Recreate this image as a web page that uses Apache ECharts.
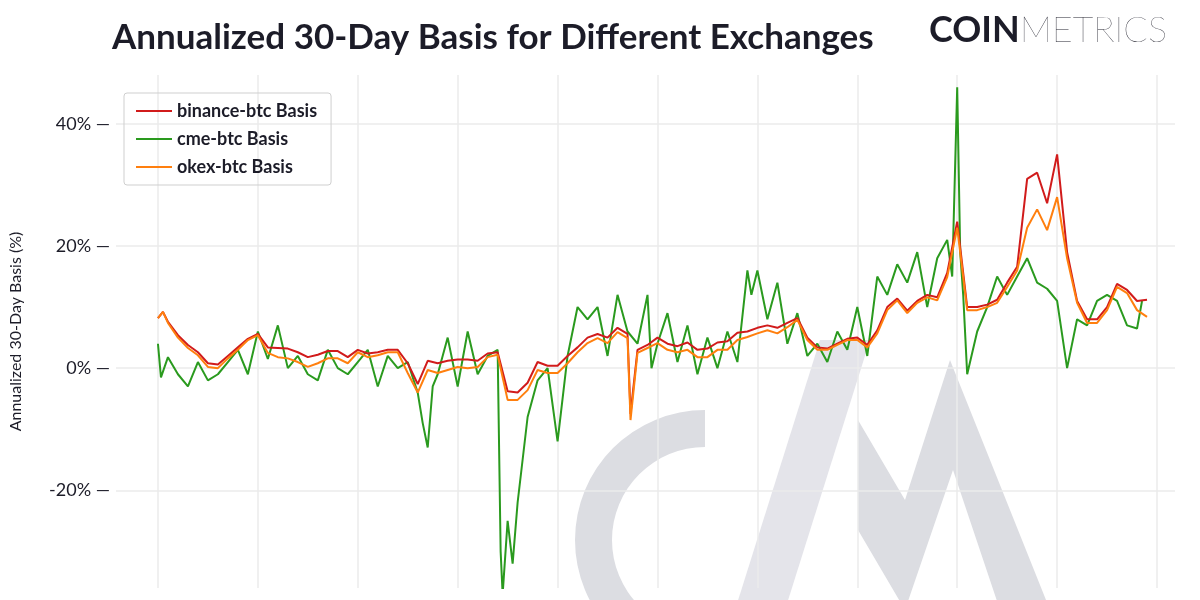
<!DOCTYPE html>
<html>
<head>
<meta charset="utf-8">
<script src="https://cdn.jsdelivr.net/npm/echarts@6/dist/echarts.min.js"></script>
<style>html,body{margin:0;padding:0;background:#fff}#chart{width:1200px;height:600px}</style>
</head>
<body>
<div id="chart"></div>
<script>
// x = position in days from the first vertical gridline (1 gridline every 100)
var okexX = [0,5,10,20,30,40,50,60,70,80,90,100,110,120,130,140,150,160,170,180,190,200,210,220,230,240,250,260,270,280,290,300,310,320,330,340,350,360,370,380,390,400,410,420,430,440,450,460,470,473,480,490,500,510,520,530,540,550,560,570,580,590,600,610,620,630,640,650,660,670,680,690,700,710,720,730,740,750,760,770,780,790,800,810,820,830,840,850,860,870,880,890,900,910,920,930,940,950,960,970,980,990];
var okexY = [8.2,9.2,7.4,5,3.3,2.1,0.2,0,1.6,3,4.6,5.4,2.5,1.8,1.6,1,0.2,0.8,1.6,1.6,0.8,2.6,1.8,2.1,2.6,2.6,-0.8,-4,-0.3,-0.8,-0.3,0.2,0,0.2,1.8,2.2,-5.2,-5.2,-3.6,-0.3,-0.8,-0.8,0.8,2.6,4.1,4.9,4.1,5.9,4.9,-8.5,2.5,3.3,4.1,3,2.6,3,1.8,1.8,3,3,4.6,5.1,5.7,6.2,5.7,6.7,7.9,4.6,3,3,3.8,4.6,4.6,3.4,5.7,9.5,11.1,9,10.7,11.6,11.1,14.9,23,9.5,9.5,10,10.7,13.3,16,23,26,22.6,28,18,10.7,7.4,7.4,9.5,13.3,12.3,9.5,8.4];
var binanceY = [8.2,9.2,7.6,5.4,3.8,2.6,0.8,0.6,2,3.4,4.8,5.6,3.4,3.3,3.2,2.6,1.8,2.2,2.8,2.8,1.8,3,2.4,2.6,3,3,0.8,-2.6,1.2,0.8,1.2,1.4,1.4,1.2,2.4,2.6,-3.8,-4,-2.4,1,0.4,0.4,2,3.4,5,5.6,5,6.6,5.6,-7.5,3,3.8,5,4,3.6,4.2,3,3.2,4.2,4.4,5.8,6,6.6,7,6.6,7.4,8.2,5,3.4,3.2,4,4.8,5,3.8,6.2,10,11.4,9.4,11,12,11.6,15.6,24,10,10,10.4,11.2,14,16.6,31,32,27,35,19,11,8,8,10,13.8,12.8,11,11.2];
var cmeX = [0,3,10,20,30,40,50,60,70,80,90,100,110,120,130,140,150,160,170,180,190,200,210,220,230,240,250,260,265,270,275,280,290,300,310,320,330,340,343,345,350,355,360,365,370,380,390,400,410,420,430,440,450,460,470,480,490,494,500,510,520,530,540,550,560,570,580,590,594,600,610,620,630,640,650,660,670,680,690,700,710,720,730,740,750,760,770,780,790,795,800,803,806,810,820,830,840,850,860,870,880,890,900,910,920,930,940,950,960,970,980,985,990];
var cmeY = [4,-1.5,1.8,-1,-3,1,-2,-1,1,3,-1,6,1.5,7,0,2,-1,-2,3,0,-1,1,3,-3,2,0,1,-4,-9,-13,-3,-1,5,-3,6,-1,2,3,-30,-37,-25,-32,-22,-15,-8,-2,0,-12,2,10,8,10,2,12,6,4,12,0,4,9,1,7,-1,5,0,6,1,16,12,16,8,14,4,9,2,4,1,6,3,10,2,15,12,17,14,19,10,18,21,15,46,19,12,-1,6,10,15,12,15,18,14,13,11,0,8,7,11,12,11,7,6.5,11];
var yTicks = [-20, 0, 20, 40];
var xGrid = [0,100,200,300,400,500,600,700,800,900,1000];

function pairs(xs, ys) {
    var out = [];
    for (var i = 0; i < xs.length; i++) out.push([xs[i], ys[i]]);
    return out;
}

var chart = echarts.init(document.getElementById('chart'));
var font = 'Lato';
var gridLine = {color: '#ebebeb', type: 'solid', width: 1.5};
var gridMarks = xGrid.map(function (v) { return {xAxis: v}; })
    .concat(yTicks.map(function (v) { return {yAxis: v}; }));

var option = {
    backgroundColor: '#fff',
    animation: false,
    textStyle: {fontFamily: font},
    title: {
        text: 'Annualized 30-Day Basis for Different Exchanges',
        left: 107, top: 15,
        textStyle: {fontSize: 35, fontWeight: 'bold', color: '#1c1c28', fontFamily: font}
    },
    graphic: [
        // CM watermark
        {type: 'ring', z: -1, shape: {cx: 705, cy: 540, r: 130, r0: 93}, style: {fill: '#dcdde2'}},
        {type: 'rect', z: -1, shape: {x: 705, y: 380, width: 140, height: 320}, style: {fill: '#fff'}},
        {type: 'polygon', z: -1, shape: {points: [[735, 610], [820, 340], [870, 340], [785, 610]]}, style: {fill: '#e4e4ea'}},
        {type: 'polygon', z: -1, shape: {points: [[858, 420], [905, 500], [950, 360], [1050, 610], [1000, 610], [953, 470], [905, 610], [858, 530]]}, style: {fill: '#dcdde2'}},
        // logo
        {
            type: 'text', left: 929, top: 12,
            style: {
                text: '{a|COIN}{b|METRICS}',
                rich: {
                    a: {fontSize: 36, fontWeight: 'bold', fill: '#1c1c28', fontFamily: font},
                    b: {fontSize: 36, fontWeight: 'lighter', fill: '#1c1c28', fontFamily: font}
                }
            }
        }
    ],
    legend: {
        left: 124, top: 93, orient: 'vertical',
        padding: [9, 14, 9, 12], itemGap: 10,
        borderColor: '#cfcfcf', borderWidth: 1, borderRadius: 3,
        itemWidth: 36, itemHeight: 2, icon: 'rect',
        textStyle: {fontSize: 18, color: '#1c1c28', fontFamily: font, fontWeight: 'bold'},
        data: ['binance-btc Basis', 'cme-btc Basis', 'okex-btc Basis']
    },
    grid: {left: 115, right: 25, top: 75, bottom: 12},
    xAxis: {
        type: 'value', min: -42, max: 1018,
        axisLine: {show: false}, axisTick: {show: false}, axisLabel: {show: false}, splitLine: {show: false}
    },
    yAxis: {
        type: 'value', min: -36, max: 48, interval: 4,
        name: 'Annualized 30-Day Basis (%)', nameLocation: 'middle', nameGap: 92,
        nameTextStyle: {fontSize: 16, color: '#1c1c28', fontFamily: font},
        axisLine: {show: false},
        axisTick: {show: false},
        axisLabel: {
            fontSize: 18, color: '#1c1c28', margin: 6,
            formatter: function (v) { return yTicks.indexOf(v) >= 0 ? v + '% \u2014' : ''; }
        },
        splitLine: {show: false}
    },
    series: [
        {
            name: 'cme-btc Basis', type: 'line', showSymbol: false, z: 2,
            lineStyle: {width: 2, color: '#2a9a1e'}, itemStyle: {color: '#2a9a1e'},
            data: pairs(cmeX, cmeY),
            markLine: {
                silent: true, symbol: 'none', z: 0, label: {show: false},
                lineStyle: gridLine, emphasis: {disabled: true},
                data: gridMarks
            }
        },
        {
            name: 'binance-btc Basis', type: 'line', showSymbol: false, z: 3,
            lineStyle: {width: 2, color: '#d11b1b'}, itemStyle: {color: '#d11b1b'},
            data: pairs(okexX, binanceY)
        },
        {
            name: 'okex-btc Basis', type: 'line', showSymbol: false, z: 4,
            lineStyle: {width: 2, color: '#ff7f0e'}, itemStyle: {color: '#ff7f0e'},
            data: pairs(okexX, okexY)
        }
    ]
};
chart.setOption(option);
</script>
</body>
</html>
